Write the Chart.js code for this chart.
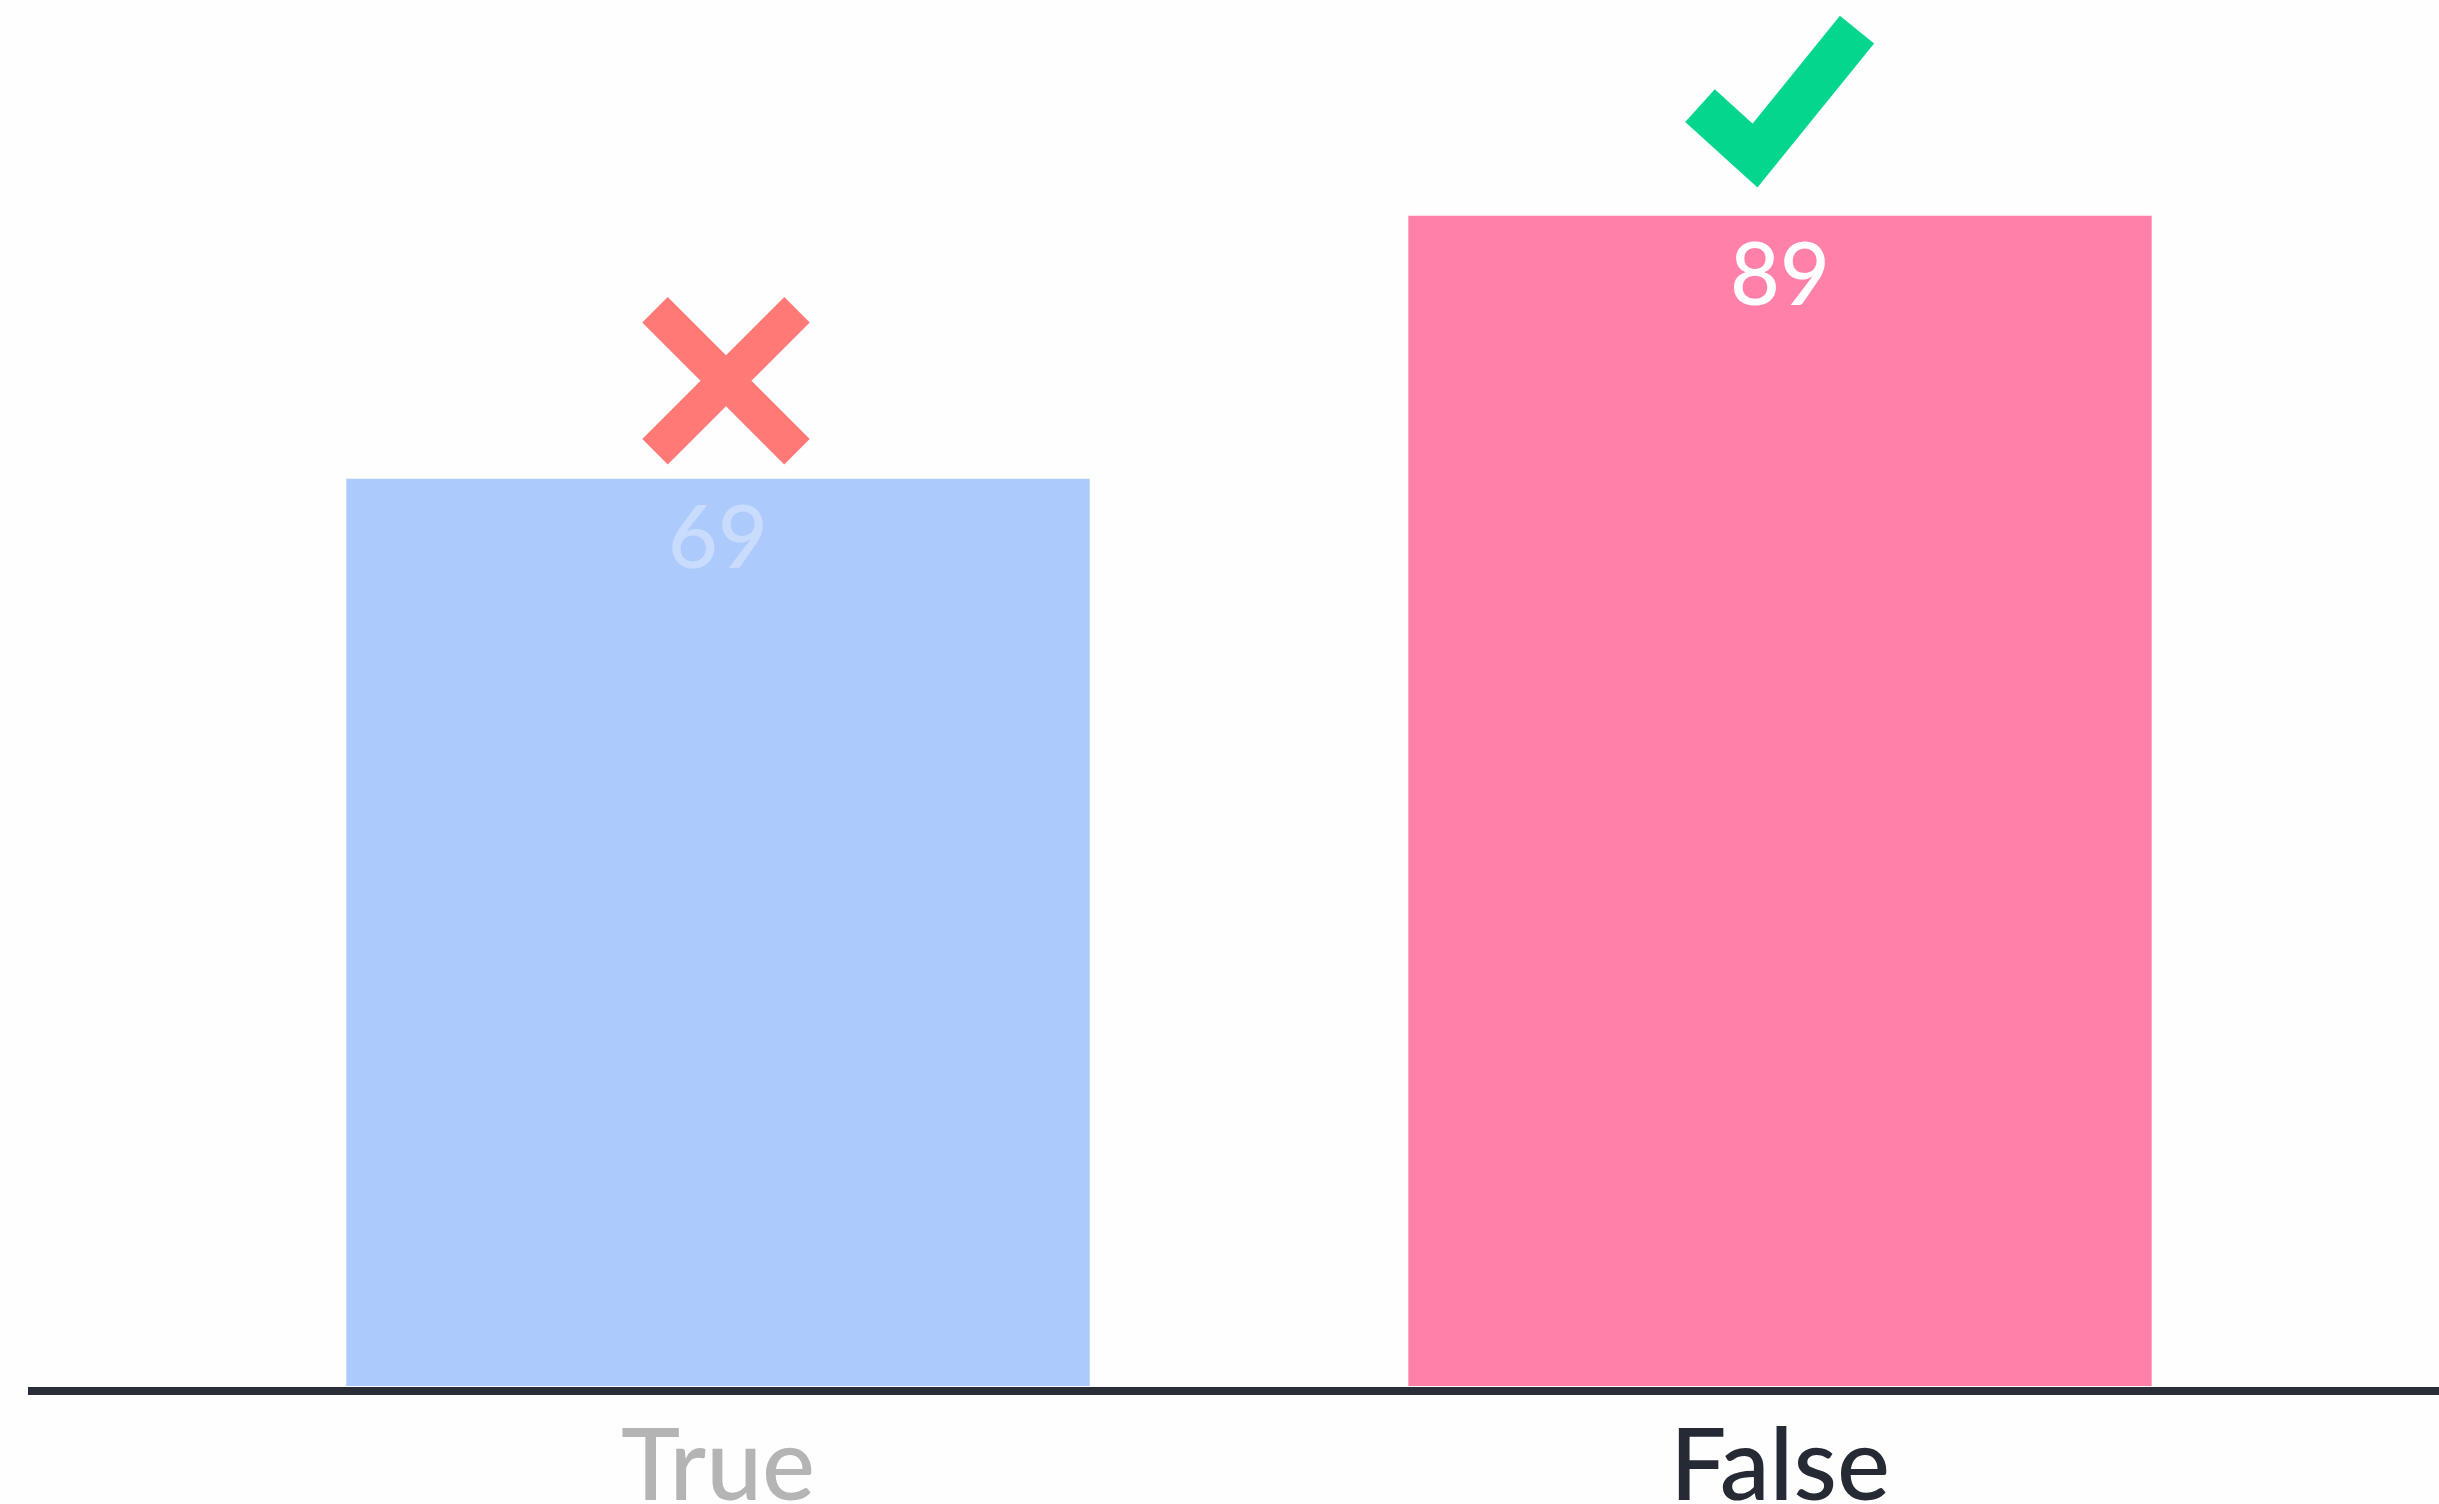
<!DOCTYPE html>
<html>
<head>
<meta charset="utf-8">
<script src="https://cdn.jsdelivr.net/npm/chart.js@4"></script>
<style>
  html, body { margin: 0; padding: 0; background: #fefefe; }
  #wrap { width: 2439px; height: 1504px; position: relative; }
</style>
</head>
<body>
<div id="wrap"><canvas id="myChart"></canvas></div>
<script>
const ctx = document.getElementById('myChart')

const categories = ['True', 'False']
const answers = [69, 89]
const correct = [false, true]

const barColors = ['#adcafd', '#ff80a9']
const tickColors = ['#b4b4b4', '#252a35']
const valueColors = ['rgba(255,255,255,0.35)', '#ffffff']

const fontFamily = 'Lato, "Noto Sans", sans-serif'

// axis line across the whole width + value labels + tick/cross marks
const decorations = {
  id: 'decorations',
  afterDatasetsDraw(chart) {
    const c = chart.ctx
    const base = chart.scales.y.getPixelForValue(0)
    c.save()
    c.strokeStyle = '#2a2e39'
    c.lineWidth = 8
    c.beginPath()
    c.moveTo(28, base + 5)
    c.lineTo(chart.width, base + 5)
    c.stroke()

    const meta = chart.getDatasetMeta(0)
    meta.data.forEach((bar, i) => {
      c.fillStyle = valueColors[i]
      c.font = '500 86px ' + fontFamily
      c.textAlign = 'center'
      c.textBaseline = 'middle'
      c.fillText(answers[i], bar.x, bar.y + 62)

      c.lineCap = 'butt'
      if (correct[i]) {
        c.strokeStyle = '#05d68e'
        c.lineWidth = 44
        c.lineJoin = 'miter'
        c.beginPath()
        c.moveTo(bar.x - 80, bar.y - 110)
        c.lineTo(bar.x - 25, bar.y - 60)
        c.lineTo(bar.x + 77, bar.y - 186)
        c.stroke()
      } else {
        const cx = bar.x + 8
        const cy = bar.y - 98
        const r = 71
        c.strokeStyle = '#ff7a77'
        c.lineWidth = 36
        c.beginPath()
        c.moveTo(cx - r, cy - r)
        c.lineTo(cx + r, cy + r)
        c.moveTo(cx + r, cy - r)
        c.lineTo(cx - r, cy + r)
        c.stroke()
      }
    })
    c.restore()
  }
}

new Chart(ctx, {
  type: 'bar',
  data: {
    labels: categories,
    datasets: [{
      data: answers,
      backgroundColor: barColors,
      borderWidth: 0,
      barPercentage: 0.7,
      categoryPercentage: 1
    }]
  },
  options: {
    responsive: true,
    maintainAspectRatio: false,
    animation: false,
    events: [],
    layout: { padding: { top: 71, left: 187, right: 128, bottom: 0 } },
    plugins: {
      legend: { display: false },
      tooltip: { enabled: false }
    },
    scales: {
      x: {
        grid: { display: false },
        border: { display: false },
        ticks: {
          padding: 14,
          color: (c) => tickColors[c.index],
          font: { family: fontFamily, size: 100, weight: '500' }
        },
        afterFit: (scale) => { scale.height = 118 }
      },
      y: {
        display: false,
        min: 0,
        max: 100
      }
    }
  },
  plugins: [decorations]
})
</script>
</body>
</html>
